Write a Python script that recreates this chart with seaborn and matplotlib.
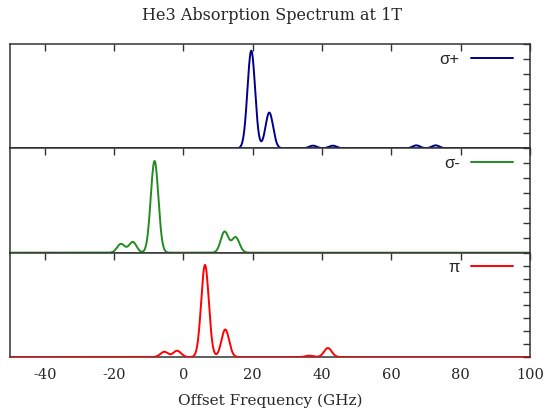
import numpy as np
import pandas as pd
import matplotlib
matplotlib.use("Agg")
import matplotlib.pyplot as plt
import seaborn as sns
from matplotlib.ticker import MultipleLocator
from matplotlib.font_manager import FontProperties

# ---- data ----
title = "He3 Absorption Spectrum at 1T"
xlabel = "Offset Frequency (GHz)"
series_names = ["σ+", "σ-", "π"]
series_colors = ["#00008b", "#228b22", "#ff0000"]

sigma_plus_centers = [19.6, 24.8, 37.4, 43.1, 67.2, 72.8]
sigma_plus_heights = [6.55, 2.40, 0.18, 0.18, 0.20, 0.20]
sigma_minus_centers = [-18.0, -14.6, -8.3, 11.9, 15.1]
sigma_minus_heights = [0.59, 0.72, 6.15, 1.41, 1.03]
pi_centers = [-5.5, -1.8, 6.25, 12.1, 36.4, 41.7]
pi_heights = [0.40, 0.48, 7.06, 2.11, 0.10, 0.69]
line_sigma_ghz = 1.1          # Gaussian width of every line
panel_ymax = [7, 7, 8]
x_range = [-50, 100]
x_ticks = [-40, -20, 0, 20, 40, 60, 80, 100]

peaks = [(sigma_plus_centers, sigma_plus_heights),
         (sigma_minus_centers, sigma_minus_heights),
         (pi_centers, pi_heights)]

freq = np.linspace(x_range[0], x_range[1], 3001)
frames = []
for name, (cs, hs) in zip(series_names, peaks):
    a = np.zeros_like(freq)
    for c, h in zip(cs, hs):
        a += h * np.exp(-0.5 * ((freq - c) / line_sigma_ghz) ** 2)
    frames.append(pd.DataFrame({"freq": freq, "absorption": a, "pol": name}))
df = pd.concat(frames, ignore_index=True)

# ---- figure ----
sns.set_theme(style="white")
plt.rcParams["font.family"] = ["DejaVu Serif"]
plt.rcParams["axes.unicode_minus"] = False

W, H = 546, 411
fig, axes = plt.subplots(3, 1, figsize=(W / 100, H / 100), dpi=100, sharex=True,
                         gridspec_kw=dict(hspace=0))
fig.subplots_adjust(left=10 / W, right=530 / W, bottom=1 - 357 / H, top=1 - 44 / H)

edge = "#333333"
legend_font = FontProperties(family=["Liberation Sans", "DejaVu Sans"], size=12)

for ax, name, color, ymax in zip(axes, series_names, series_colors, panel_ymax):
    sub = df[df["pol"] == name]
    sns.lineplot(data=sub, x="freq", y="absorption", ax=ax, color=color,
                 linewidth=1.4, label=name, zorder=3)
    ax.set_xlim(*x_range)
    ax.set_ylim(0, ymax)
    ax.set_xticks(x_ticks)
    ax.yaxis.set_major_locator(MultipleLocator(1))
    ax.tick_params(axis="both", which="both", direction="in", top=True, right=True,
                   length=5, width=1, color=edge, labelleft=False, labelsize=10.5,
                   pad=8)
    for s in ax.spines.values():
        s.set_color(edge)
        s.set_linewidth(1.1)
    ax.set_xlabel("")
    ax.set_ylabel("")
    ax.legend(loc="upper right", bbox_to_anchor=(0.977, 0.975), frameon=False,
              markerfirst=False, handlelength=2.5, prop=legend_font,
              borderaxespad=0, borderpad=0.3, handletextpad=0.7)

for ax in axes[:-1]:
    ax.tick_params(labelbottom=False)

fig.text(272 / W, 1 - 15 / H, title, ha="center", va="center", fontsize=11.5)
fig.text(270 / W, 1 - 401 / H, xlabel, ha="center", va="center", fontsize=11)

fig.savefig("out.png", dpi=100)
